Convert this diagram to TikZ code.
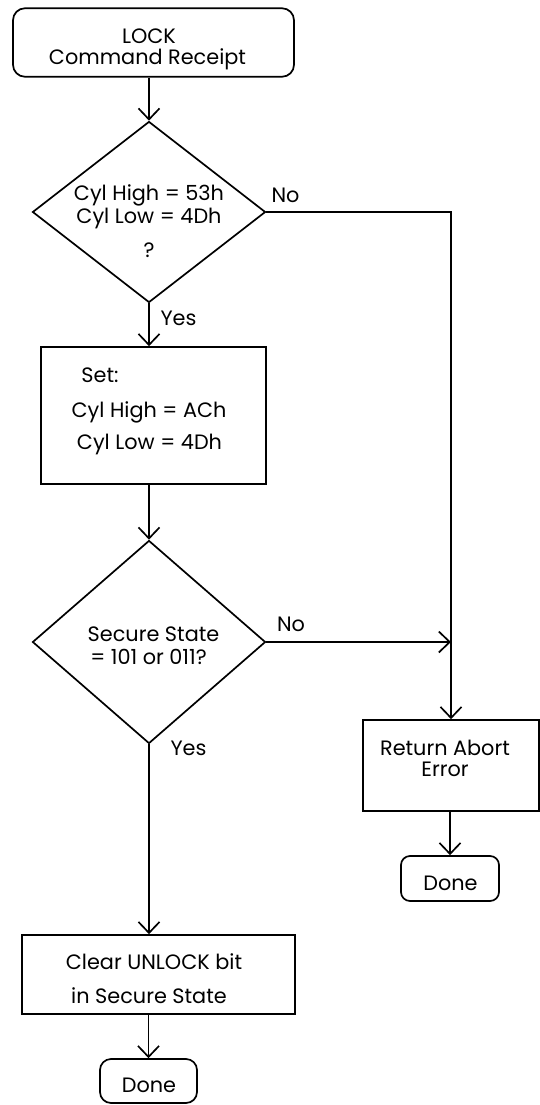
\documentclass[tikz,border=0pt]{standalone}
\usepackage{fontspec}
\setmainfont{Poppins}
\usetikzlibrary{shapes.geometric,arrows.meta}
\begin{document}
\begin{tikzpicture}[x=1pt,y=-1pt,
  line width=1.7pt,
  box/.style={draw,rectangle,inner sep=0pt},
  rbox/.style={draw,rectangle,rounded corners=#1,inner sep=0pt},
  rbox/.default=9pt,
  dia/.style={draw,diamond,inner sep=0pt},
  txt/.style={anchor=base,inner sep=0pt,font=\fontsize{20.8}{24}\selectfont},
  conn/.style={-{Straight Barb[length=11pt,width=21pt]}}]
\useasboundingbox (0,0) rectangle (539,1105);

% shapes
\node[rbox=12pt,minimum width=281pt,minimum height=68.5pt] (start) at (153.5,42.5) {};
\node[dia,minimum width=233pt,minimum height=181pt] (d1) at (149,212) {};
\node[box,minimum width=225pt,minimum height=137pt] (set) at (153.5,415.5) {};
\node[dia,minimum width=233pt,minimum height=203pt] (d2) at (149,642) {};
\node[box,minimum width=176pt,minimum height=91pt] (ret) at (451,765.5) {};
\node[rbox,minimum width=98pt,minimum height=45pt] (done2) at (450,878.5) {};
\node[box,minimum width=273pt,minimum height=79pt] (clear) at (158.5,974.5) {};
\node[rbox=11pt,minimum width=97pt,minimum height=44pt] (done1) at (148.5,1081) {};

% texts
\node[txt] (t1) at (149,43.5) {LOCK};
\node[txt] (t2) at (147.5,65) {Command Receipt};
\node[txt] (t3) at (149,200.5) {Cyl High = 53h};
\node[txt] (t4) at (149,223) {Cyl Low = 4Dh};
\node[txt] (t5) at (149,257) {?};
\node[txt] (t6) at (100,382) {Set:};
\node[txt] (t7) at (149,417) {Cyl High = ACh};
\node[txt] (t8) at (149.5,449) {Cyl Low = 4Dh};
\node[txt] (t9) at (153.5,641.5) {Secure State};
\node[txt] (t10) at (148.5,664) {= 101 or 011?};
\node[txt] (t11) at (445,755.5) {Return Abort};
\node[txt] (t12) at (445,776.5) {Error};
\node[txt] (t13) at (450.5,890) {Done};
\node[txt] (t14) at (154,969) {Clear UNLOCK bit};
\node[txt] (t15) at (149,1003) {in Secure State};
\node[txt] (t16) at (149,1092.5) {Done};

% branch labels
\node[txt] (no1) at (285.5,202) {No};
\node[txt] (yes1) at (178.5,325) {Yes};
\node[txt] (no2) at (291,631.5) {No};
\node[txt] (yes2) at (188.5,755) {Yes};

% connectors
\draw[conn] (start.south -| d1.north) -- (d1.north);
\draw[conn] (d1.south) -- (d1.south |- set.north);
\draw[conn] (set.south -| d2.north) -- (d2.north);
\draw[conn] (d2.south) -- (d2.south |- clear.north);
\draw[conn] (clear.south -| done1.north) -- (done1.north);
\draw[conn] (d1.east) -| (ret.north);
\draw[conn] (d2.east) -- (d2.east -| ret.north);
\draw[conn] (ret.south) -- (ret.south -| done2.north) -- (done2.north);
\end{tikzpicture}
\end{document}
